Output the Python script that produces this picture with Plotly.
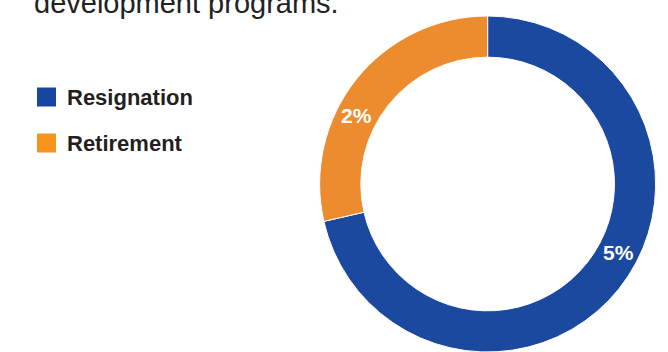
import math
import plotly.graph_objects as go

labels = ["Resignation", "Retirement"]
values = [5, 2]
pie_colors = ["#1a499f", "#ec8c2f"]
legend_colors = ["#1746a0", "#f7941d"]
title_text = "development programs."

W, H = 668, 352
margin_t = 16
dom_x = [0.46, 1.0]

fig = go.Figure(go.Pie(
    labels=labels, values=values, sort=False, direction="clockwise", rotation=0,
    hole=0.755, marker=dict(colors=pie_colors, line=dict(color="white", width=1)),
    textinfo="none", hoverinfo="label+value", showlegend=False,
    domain=dict(x=dom_x, y=[0, 1]),
))

# geometry of the donut as Plotly lays it out
gh = H - margin_t
cx = W * (dom_x[0] + dom_x[1]) / 2
cy = margin_t + gh / 2
r_out = min(W * (dom_x[1] - dom_x[0]), gh) / 2
r_mid = r_out * (1 + 0.755) / 2


def py2paper(py):
    return 1 - (py - margin_t) / gh


total = sum(values)
cum = 0
annotations = []
for v in values:
    mid = (cum + v / 2) / total * 360 - 11
    cum += v
    a = math.radians(mid)
    px = cx + r_mid * math.sin(a)
    py = cy - r_mid * math.cos(a)
    annotations.append(dict(
        x=px / W, y=py2paper(py), xref="paper", yref="paper", showarrow=False,
        text=f"<b>{v}%</b>", xanchor="center", yanchor="middle",
        font=dict(family="Liberation Sans Narrow, Arial, sans-serif", size=21, color="white"),
    ))

annotations.append(dict(
    x=32 / W, y=py2paper(21), xref="paper", yref="paper", showarrow=False,
    text=title_text, xanchor="left", yanchor="bottom",
    font=dict(family="Liberation Sans, Arial, sans-serif", size=29, color="#222222"),
))

shapes = []
legend_y = [97, 143]
for lab, col, ly in zip(labels, legend_colors, legend_y):
    shapes.append(dict(type="rect", xref="paper", yref="paper",
                       x0=37 / W, x1=56 / W, y0=py2paper(ly + 9.5), y1=py2paper(ly - 9.5),
                       fillcolor=col, line=dict(width=0)))
    annotations.append(dict(
        x=65 / W, y=py2paper(ly), xref="paper", yref="paper", showarrow=False,
        text=f"<b>{lab}</b>", xanchor="left", yanchor="middle",
        font=dict(family="Liberation Sans, Arial, sans-serif", size=22, color="#231f20"),
    ))

fig.update_layout(
    width=W, height=H, margin=dict(l=0, r=0, t=margin_t, b=0),
    paper_bgcolor="white", plot_bgcolor="white",
    annotations=annotations, shapes=shapes,
)

fig.write_html("out.html")
